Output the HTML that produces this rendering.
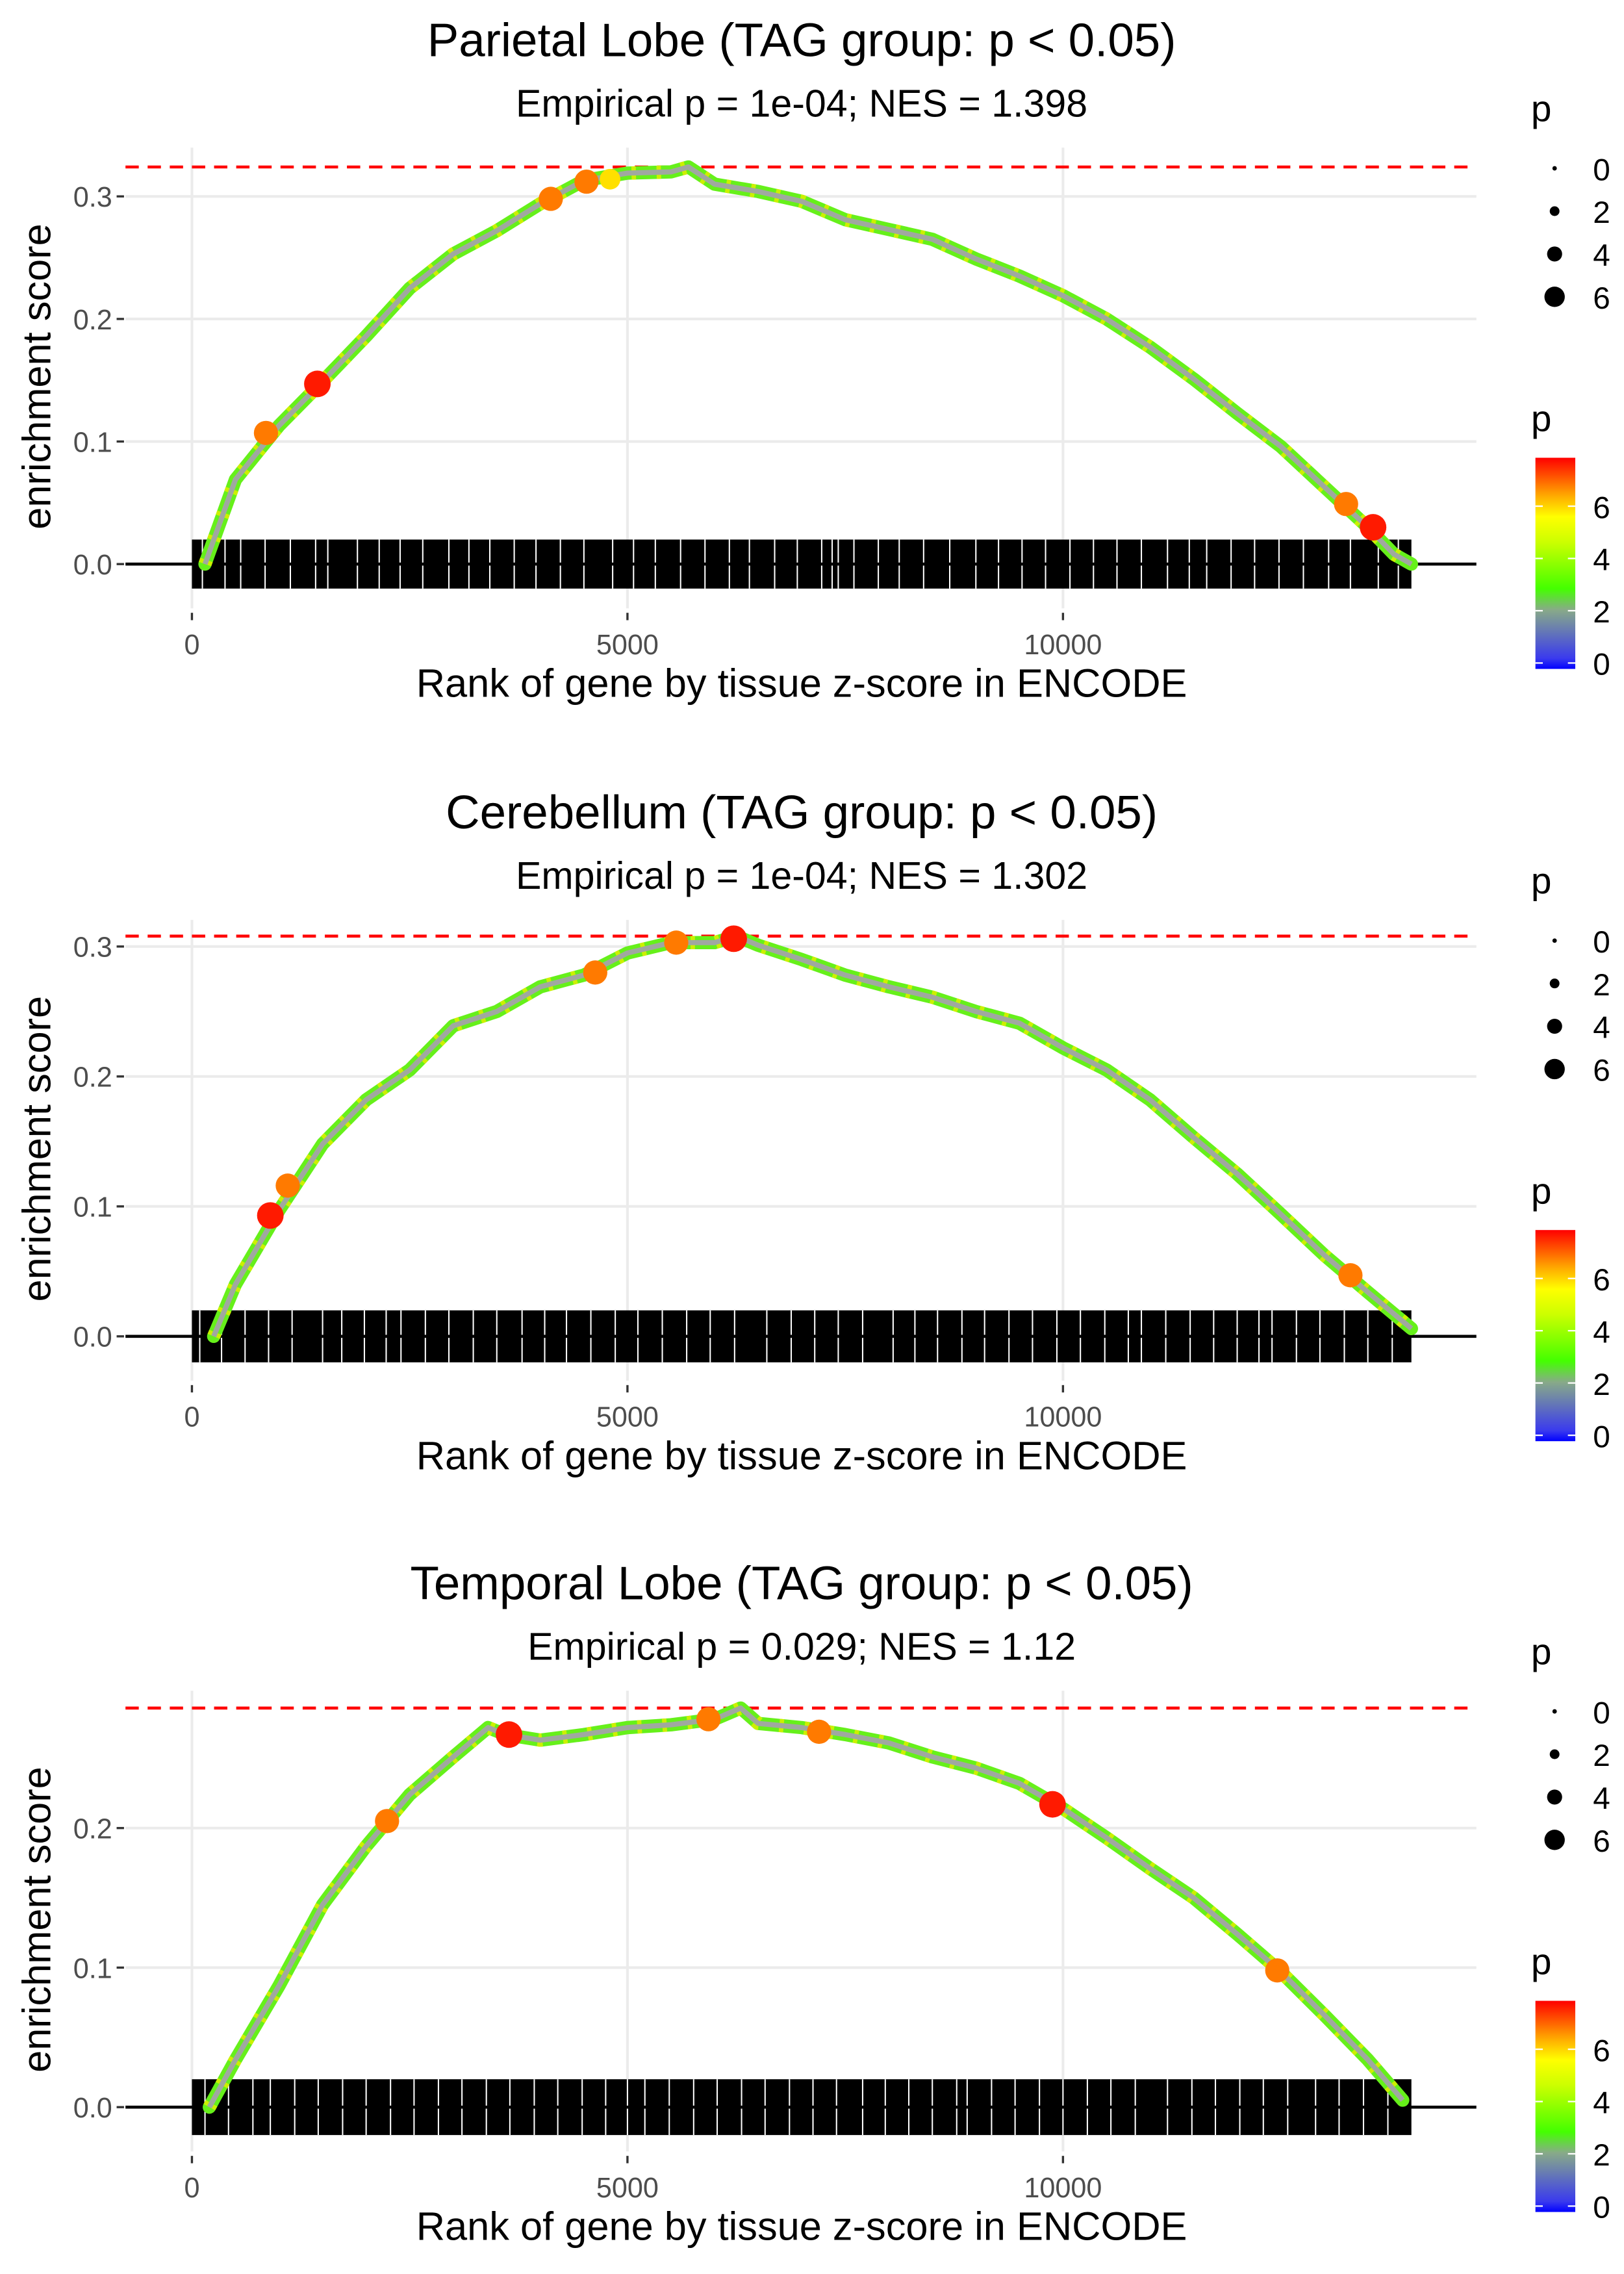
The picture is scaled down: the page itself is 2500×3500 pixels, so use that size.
<!DOCTYPE html>
<html><head><meta charset="utf-8"><style>
html,body{margin:0;padding:0;background:#fff}
svg{display:block}
text{font-family:"Liberation Sans",sans-serif}
</style></head><body>
<svg id="chart" width="2500" height="3500" viewBox="0 0 1100 1540" xmlns="http://www.w3.org/2000/svg">
<defs>
<linearGradient id="cbar" x1="0" y1="1" x2="0" y2="0">
<stop offset="0" stop-color="#0000ff"/><stop offset="0.05" stop-color="#3a3aee"/>
<stop offset="0.28" stop-color="#88aa88"/><stop offset="0.38" stop-color="#44ff00"/>
<stop offset="0.6" stop-color="#ccff00"/><stop offset="0.72" stop-color="#ffff00"/>
<stop offset="0.82" stop-color="#ffaa00"/><stop offset="1" stop-color="#ff0000"/>
</linearGradient>
</defs>
</svg>
<script>
const NS='http://www.w3.org/2000/svg';
const svg=document.getElementById('chart');
const xTicks=[0,5000,10000];
const titles=['Parietal Lobe (TAG group: p < 0.05)','Cerebellum (TAG group: p < 0.05)','Temporal Lobe (TAG group: p < 0.05)'];
const subtitles=['Empirical p = 1e-04; NES = 1.398','Empirical p = 1e-04; NES = 1.302','Empirical p = 0.029; NES = 1.12'];
const maxES=[0.324,0.308,0.286];
const yTicks1=[0.0,0.1,0.2,0.3];
const yTicks2=[0.0,0.1,0.2,0.3];
const yTicks3=[0.0,0.1,0.2];
const ranks1=[150,500,1000,1500,2000,2500,3000,3500,4000,4500,5000,5500,5700,6000,6500,7000,7500,8000,8500,9000,9500,10000,10500,11000,11500,12000,12500,13000,13500,13800,14000];
const es1=[0,0.069,0.113,0.149,0.186,0.225,0.253,0.272,0.294,0.313,0.319,0.320,0.324,0.31,0.304,0.296,0.281,0.273,0.265,0.249,0.235,0.219,0.2,0.177,0.151,0.123,0.096,0.063,0.030,0.008,0];
const ranks2=[250,500,1000,1500,2000,2500,3000,3500,4000,4500,5000,5500,6000,6250,6500,7000,7500,8000,8500,9000,9500,10000,10500,11000,11500,12000,12500,13000,13500,14000];
const es2=[0,0.04,0.097,0.148,0.182,0.205,0.239,0.25,0.269,0.278,0.295,0.303,0.303,0.308,0.301,0.29,0.278,0.269,0.261,0.25,0.241,0.222,0.205,0.182,0.153,0.125,0.094,0.0625,0.034,0.006];
const ranks3=[200,500,1000,1500,2000,2500,3000,3400,3600,4000,4500,5000,5500,6000,6300,6500,7000,7500,8000,8500,9000,9500,10000,10500,11000,11500,12000,12500,13000,13500,13900];
const es3=[0,0.034,0.087,0.145,0.187,0.224,0.251,0.272,0.267,0.263,0.267,0.272,0.274,0.278,0.286,0.275,0.272,0.267,0.261,0.251,0.243,0.232,0.214,0.193,0.171,0.15,0.124,0.097,0.066,0.034,0.005];
const hiRank1=[850,1440,4120,4530,4800,13250,13560];
const hiES1=[0.107,0.147,0.298,0.312,0.314,0.049,0.030];
const hiP1=[6.5,7.5,6.5,6.5,5,6.5,7.5];
const hiRank2=[900,1100,4630,5560,6220,13300];
const hiES2=[0.093,0.116,0.28,0.303,0.306,0.047];
const hiP2=[7.5,6.5,6.5,6.5,7.5,6.5];
const hiRank3=[2240,3640,5930,7200,9880,12460];
const hiES3=[0.205,0.267,0.278,0.269,0.217,0.098];
const hiP3=[6.5,7.5,6.5,6.5,7.5,6.5];
const rugGaps1=[120,380,560,840,1130,1420,1560,1900,2150,2390,2650,2950,3180,3420,3700,3950,4230,4500,4830,5070,5320,5610,5890,6170,6400,6690,6950,7230,7350,7420,7600,7880,8120,8400,8700,9000,9260,9530,9800,10080,10350,10620,10900,11200,11450,11650,11930,12200,12480,12760,13050,13300,13620,13850];
const rugGaps2=[90,340,610,880,1150,1500,1720,1980,2230,2400,2680,2950,3230,3500,3790,4050,4300,4580,4860,5120,5400,5680,5950,6230,6600,6880,7150,7420,7700,8050,8300,8560,8840,9100,9380,9650,9930,10200,10480,10750,10900,11180,11460,11730,12000,12250,12400,12680,12950,13230,13500,13780];
const rugGaps3=[150,420,700,900,1180,1450,1730,2000,2280,2550,2830,3100,3380,3650,3930,4200,4480,4750,5000,5200,5480,5760,6030,6310,6580,6860,7130,7400,7700,7960,8230,8500,8780,8900,9180,9450,9730,10000,10280,10550,10830,11200,11480,11750,12030,12300,12580,12900,13170,13450,13730];
const rugEnd=14000;
const sizeLegend=[0,2,4,6];
const colorLegend=[6,4,2,0];

const panels=[
 {off:0,y0:382,per:83,top:100,bot:412,ranks:ranks1,es:es1,hr:hiRank1,he:hiES1,hp:hiP1,gaps:rugGaps1,ticks:yTicks1},
 {off:523,y0:905,per:88,top:623,bot:935,ranks:ranks2,es:es2,hr:hiRank2,he:hiES2,hp:hiP2,gaps:rugGaps2,ticks:yTicks2},
 {off:1045,y0:1427,per:94.5,top:1145,bot:1457,ranks:ranks3,es:es3,hr:hiRank3,he:hiES3,hp:hiP3,gaps:rugGaps3,ticks:yTicks3}
];
function el(tag,attrs,parent){const e=document.createElementNS(NS,tag);for(const k in attrs)e.setAttribute(k,attrs[k]);(parent||svg).appendChild(e);return e;}
function txt(s,attrs,parent){const e=el('text',attrs,parent);e.textContent=s;return e;}
function pcol(p){return p>=7?'#ff1a00':(p>=6?'#ff7a00':'#ffe000');}
const xS=r=>130+r*(295/5000);
const L=85,R=1000;

panels.forEach((P,i)=>{
 const g=el('g',{});
 
 
 const yS=v=>P.y0-v*P.per*10;
 xTicks.forEach(t=>{const l=el('line',{x1:xS(t),x2:xS(t),y1:P.top,y2:P.bot,stroke:'#ebebeb','stroke-width':1.8},g);
  });
 P.ticks.forEach(t=>{const l=el('line',{x1:L,x2:R,y1:yS(t),y2:yS(t),stroke:'#ebebeb','stroke-width':1.8},g);
  });
 const tt=txt(titles[i],{x:543,y:P.off+38,'font-size':32,'text-anchor':'middle',fill:'#000'},g);
 
 const st=txt(subtitles[i],{x:543,y:P.off+79,'font-size':26,'text-anchor':'middle',fill:'#000'},g);
 
 const dl=el('line',{x1:L,x2:R,y1:yS(maxES[i]),y2:yS(maxES[i]),stroke:'#ff0000','stroke-width':2,'stroke-dasharray':'9,6'},g);
 
 const rug=el('rect',{x:xS(0),y:yS(0.02),width:xS(rugEnd)-xS(0),height:yS(-0.02)-yS(0.02),fill:'#000'},g);
 
 P.gaps.forEach(r=>{const l=el('line',{x1:xS(r),x2:xS(r),y1:yS(0.02),y2:yS(-0.02),stroke:'#fff','stroke-width':0.9},g);
  });
 const zl=el('line',{x1:L,x2:R,y1:yS(0),y2:yS(0),stroke:'#000','stroke-width':2},g);
 
 const pts=P.ranks.map((r,k)=>xS(r)+','+yS(P.es[k])).join(' ');
 const c1=el('polyline',{points:pts,fill:'none',stroke:'#66f01a','stroke-width':9,'stroke-linejoin':'round','stroke-linecap':'round'},g);
 
 const c2=el('polyline',{points:pts,fill:'none',stroke:'#ccf000','stroke-width':9,'stroke-dasharray':'3,14','stroke-linejoin':'round'},g);
 
 const c3=el('polyline',{points:pts,fill:'none',stroke:'#a0a8a0','stroke-width':3.5,'stroke-linejoin':'round'},g);
 
 P.hr.forEach((r,k)=>{const c=el('circle',{cx:xS(r),cy:yS(P.he[k]),r:3+P.hp[k]*0.8,fill:pcol(P.hp[k])},g);
  });
 P.ticks.forEach(t=>{const l=txt(t.toFixed(1),{x:76,y:yS(t)+7,'font-size':19,'text-anchor':'end',fill:'#4d4d4d'},g);
  
  el('line',{x1:79,x2:84,y1:yS(t),y2:yS(t),stroke:'#333','stroke-width':1.5},g);});
 xTicks.forEach(t=>{const l=txt(String(t),{x:xS(t),y:P.bot+31,'font-size':19,'text-anchor':'middle',fill:'#4d4d4d'},g);
  
  el('line',{x1:xS(t),x2:xS(t),y1:P.bot+3,y2:P.bot+8,stroke:'#333','stroke-width':1.5},g);});
 const xt=txt('Rank of gene by tissue z-score in ENCODE',{x:543,y:P.off+472,'font-size':27,'text-anchor':'middle',fill:'#000'},g);
 
 const yc=P.off+255;
 const yt=txt('enrichment score',{x:34,y:yc,'font-size':27,'text-anchor':'middle',fill:'#000',transform:'rotate(-90 34 '+yc+')'},g);
 
 const sl=txt('p',{x:1037,y:P.off+82,'font-size':25,fill:'#000'},g);
 
 sizeLegend.forEach((v,k)=>{const y=P.off+114+k*29;
  const c=el('circle',{cx:1053,cy:y,r:1.5+v*0.9,fill:'#000'},g);
  
  const t=txt(String(v),{x:1079,y:y+8,'font-size':21,fill:'#000'},g);
  });
 const cl=txt('p',{x:1037,y:P.off+292,'font-size':25,fill:'#000'},g);
 
 const cb=el('rect',{x:1040,y:P.off+310,width:27,height:143,fill:'url(#cbar)'},g);
 
 colorLegend.forEach(v=>{const y=P.off+449-v*17.7;
  el('line',{x1:1040,x2:1045,y1:y,y2:y,stroke:'#fff','stroke-width':1},g);
  el('line',{x1:1062,x2:1067,y1:y,y2:y,stroke:'#fff','stroke-width':1},g);
  const t=txt(String(v),{x:1079,y:y+8,'font-size':21,fill:'#000'},g);
  });
});
</script>
</body></html>
